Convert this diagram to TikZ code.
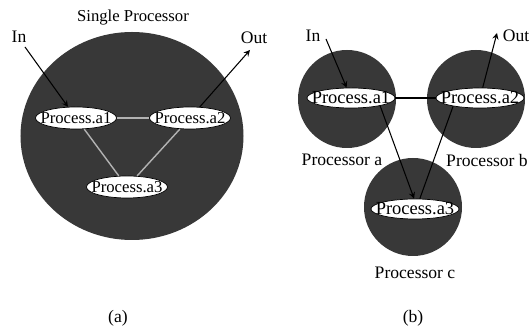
\documentclass[tikz,border=0pt]{standalone}
\usepackage{fontspec}
\setmainfont{Liberation Serif}
\usetikzlibrary{shapes.geometric}
\tikzset{
proc/.style={ellipse,draw=black,fill=white,inner sep=0pt,
  minimum width=1.62cm,minimum height=0.44cm},
procb/.style={proc,minimum width=1.76cm,minimum height=0.4cm},
proctext/.style={inner sep=0pt,font=\fontsize{9.5}{10}\selectfont},
proctextb/.style={inner sep=0pt,font=\fontsize{10.5}{11}\selectfont},
cpu/.style={ellipse,fill=black!78,inner sep=0pt},
cpub/.style={cpu,minimum width=1.96cm,minimum height=1.96cm},
faint/.style={gray!60,line width=0.8pt},
link/.style={black,line width=0.6pt}
}
\begin{document}
\begin{tikzpicture}[x=0.2mm,y=-0.2mm,>=stealth]
\useasboundingbox (0,0) rectangle (530,330);
% (a) one processor
\node[cpu,minimum width=4.46cm,minimum height=4.16cm] (single) at (132,136) {};
\node (title) at (133,18) {\fontsize{9.5}{10}\selectfont Single Processor};
\node[proc] (a1) at (76,118) {};
\node[proc] (a2) at (190,118) {};
\node[proc] (a3) at (127,187) {};
\node[proctext] at (a1) {Process.a1};
\node[proctext] at (a2) {Process.a2};
\node[proctext] at (a3) {Process.a3};
\draw[faint] (a1) -- (a2);
\draw[faint] (a1) -- (a3);
\draw[faint] (a2) -- (a3);
\coordinate (ina) at (25,47);
\coordinate (outa) at (250,50);
\node (inlabela) at (19,37) {In};
\node (outlabela) at (254,38) {Out};
\draw[link,->] (ina) -- (a1);
\draw[link,->] (a2) -- (outa);
\node (capa) at (118,318) {(a)};
% (b) three processors
\node[cpub] (pa) at (347,99) {};
\node[cpub] (pb) at (476,99) {};
\node[cpub] (pc) at (413,207) {};
\node[procb] (a1b) at (351,98) {};
\node[procb] (a2b) at (480,98) {};
\node[procb] (a3b) at (415,209) {};
\node[proctextb] at (a1b) {Process.a1};
\node[proctextb] at (a2b) {Process.a2};
\node[proctextb] at (a3b) {Process.a3};
\draw[link] (a1b) -- (a2b);
\draw[link,->] (a1b.-15) -- (a3b.95);
\draw[link] (a3b.65) -- (a2b.197);
\coordinate (inb) at (326,39);
\coordinate (outb) at (497,33);
\node (inlabelb) at (313,36) {In};
\node (outlabelb) at (516,36) {Out};
\draw[link,->] (inb) -- (a1b);
\draw[link,->] (a2b) -- (outb);
\node (laba) at (342,160) {Processor a};
\node (labb) at (487,160) {Processor b};
\node (labc) at (415,273) {Processor c};
\node (capb) at (413,318) {(b)};
\end{tikzpicture}
\end{document}
